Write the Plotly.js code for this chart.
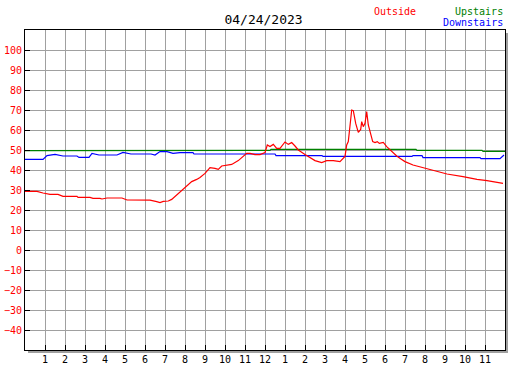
<!DOCTYPE html>
<html>
<head>
<meta charset="utf-8">
<script src="https://cdn.plot.ly/plotly-3.0.1.min.js"></script>
<style>html,body{margin:0;padding:0;background:#fff;}#chart{width:527px;height:370px;}</style>
</head>
<body>
<div id="chart"></div>
<script>
const chartTitle = "04/24/2023";
const xTickVals = [1,2,3,4,5,6,7,8,9,10,11,12,13,14,15,16,17,18,19,20,21,22,23];
const xTickText = ["1","2","3","4","5","6","7","8","9","10","11","12","1","2","3","4","5","6","7","8","9","10","11"];
const yTickVals = [-40,-30,-20,-10,0,10,20,30,40,50,60,70,80,90,100];

const outsideHours = [0,0.6,0.9,1.25,1.65,1.9,2.6,2.65,3.25,3.4,3.75,3.85,4.1,4.85,5.1,6.25,6.585,6.75,6.915,7.165,7.335,7.585,7.835,8.0,8.165,8.335,8.585,8.75,9.0,9.165,9.25,9.5,9.665,9.835,10.085,10.335,10.665,10.915,11.085,11.25,11.5,11.75,12.0,12.115,12.25,12.415,12.585,12.75,13.0,13.165,13.335,13.5,13.665,14.0,14.25,14.5,14.835,15.085,15.415,15.75,16.0,16.085,16.165,16.25,16.335,16.415,16.535,16.665,16.785,16.835,16.915,17.0,17.085,17.165,17.285,17.385,17.5,17.615,17.715,17.915,18.085,18.335,18.585,18.835,19.0,19.4,20.1,20.6,21.1,21.9,22.6,23.1,23.9];
const outsideTemps = [29.3,29.3,28.5,27.8,27.8,26.8,26.8,26.3,26.3,25.8,25.8,25.5,26,26,25,24.9,24.2,23.7,24.3,24.5,25.3,27.5,30,31.2,32.5,34.2,35.3,36.3,38.3,40.3,41.2,40.8,40.3,42,42.3,42.8,44.7,46.7,48.3,48.3,47.7,47.7,48.7,52.5,51.7,52.8,50.8,50.8,54,52.8,53.7,52,50,47.8,46.3,44.7,43.7,44.7,44.7,44.2,46.8,52.5,54.2,60.8,70,69.7,63.3,58.8,60.3,64.2,61.7,63.3,69.2,62.5,57.5,54.2,53.7,54.2,53.3,53.8,51.7,49.2,47,45.3,44.2,42.5,40.5,39.2,38,36.7,35.3,34.7,33.3];

const upstairsHours = [0,1.4,1.45,1.7,1.75,3.45,3.5,3.6,5.3,5.35,5.45,6.9,6.95,7.35,7.4,12.25,12.3,19.55,19.6,22.85,22.9,24];
const upstairsTemps = [49.7,49.7,50,50,49.7,49.7,50,49.7,49.7,50,49.7,49.7,50,50,49.8,49.8,50.3,50.3,49.8,49.8,49.3,49.3];

const downstairsHours = [0,0.9,1.1,1.5,1.9,2.6,2.7,3.2,3.35,3.7,4.6,4.9,5.3,6.3,6.5,6.75,7.1,7.4,7.75,8.4,8.45,12.5,12.55,14.85,14.9,19.35,19.4,19.85,19.9,22.75,22.8,23.75,23.95];
const downstairsTemps = [45.3,45.3,47.2,47.8,47,47,46.3,46.3,48.3,47.5,47.5,48.8,48,48,47.5,49.2,49.2,48.3,48.7,48.7,48,48,47.2,47.2,46.8,46.8,47.2,47.2,46.2,46.2,45.7,45.7,47.5];

const FONT = "DejaVu Sans Mono, Liberation Mono, monospace";

const traces = [
  {x: upstairsHours, y: upstairsTemps, mode: 'lines', line: {color: '#008000', width: 1.2}, name: 'Upstairs'},
  {x: downstairsHours, y: downstairsTemps, mode: 'lines', line: {color: '#0000ff', width: 1.2}, name: 'Downstairs'},
  {x: outsideHours, y: outsideTemps, mode: 'lines', line: {color: '#ff0000', width: 1.2}, name: 'Outside'}
];

const layout = {
  width: 527, height: 370,
  margin: {l: 25, r: 22, t: 30, b: 20, pad: 0},
  paper_bgcolor: '#ffffff', plot_bgcolor: '#ffffff',
  showlegend: false,
  font: {family: FONT, size: 10, color: '#000'},
  title: {text: chartTitle, font: {family: FONT, size: 13, color: '#000'}, xref: 'paper', x: 0.497, xanchor: 'center', yref: 'container', y: 1 - 19/370, yanchor: 'middle'},
  xaxis: {
    range: [0, 24], tickmode: 'array', tickvals: xTickVals, ticktext: xTickText,
    ticks: 'inside', ticklen: 5, tickwidth: 1, tickcolor: '#000',
    showgrid: true, gridcolor: '#a0a0a0', gridwidth: 1,
    showline: true, linecolor: '#000', linewidth: 1, mirror: true,
    zeroline: false, tickfont: {family: FONT, size: 10, color: '#000'}, fixedrange: true
  },
  yaxis: {
    range: [-50, 110], tickmode: 'array', tickvals: yTickVals,
    ticks: 'inside', ticklen: 5, tickwidth: 1, tickcolor: '#000',
    showgrid: true, gridcolor: '#a0a0a0', gridwidth: 1,
    showline: true, linecolor: '#000', linewidth: 1, mirror: true,
    zeroline: false, tickfont: {family: FONT, size: 10, color: '#ff0000'}, fixedrange: true
  },
  shapes: [
    {type: 'rect', xref: 'paper', yref: 'paper', x0: 1 + 1/480, x1: 1 + 3/480, y0: -3/320, y1: 1 - 3/320, fillcolor: '#a0a0a0', line: {width: 0}, layer: 'below'},
    {type: 'rect', xref: 'paper', yref: 'paper', x0: 3/480, x1: 1 + 3/480, y0: -3/320, y1: -1/320, fillcolor: '#a0a0a0', line: {width: 0}, layer: 'below'}
  ],
  annotations: [
    {text: 'Outside', xref: 'paper', yref: 'paper', x: (372 - 25)/480, y: 1 + (30 - 11)/320, xanchor: 'left', yanchor: 'middle', showarrow: false, font: {family: FONT, size: 10, color: '#ff0000'}},
    {text: 'Upstairs', xref: 'paper', yref: 'paper', x: (505 - 25)/480, y: 1 + (30 - 11)/320, xanchor: 'right', yanchor: 'middle', showarrow: false, font: {family: FONT, size: 10, color: '#008000'}},
    {text: 'Downstairs', xref: 'paper', yref: 'paper', x: (505 - 25)/480, y: 1 + (30 - 23)/320, xanchor: 'right', yanchor: 'middle', showarrow: false, font: {family: FONT, size: 10, color: '#0000ff'}}
  ]
};

Plotly.newPlot('chart', traces, layout, {displayModeBar: false, staticPlot: true});
</script>
</body>
</html>
